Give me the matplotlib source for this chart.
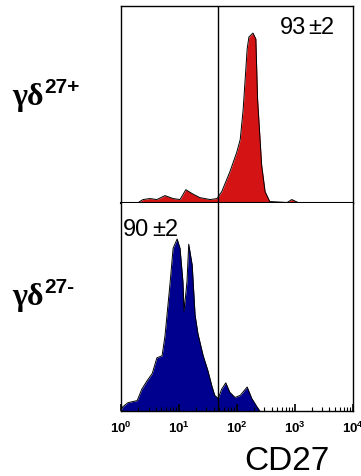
import matplotlib
matplotlib.use("Agg")
import matplotlib.pyplot as plt
import numpy as np
from matplotlib.ticker import FixedLocator, FixedFormatter, NullFormatter

plt.rcParams['font.family'] = ['Liberation Sans', 'DejaVu Sans']
plt.rcParams['mathtext.fontset'] = 'custom'
plt.rcParams['mathtext.bf'] = 'Liberation Sans:bold'
plt.rcParams['mathtext.rm'] = 'Liberation Sans'

## histogram outlines (log10 CD27, % of max scale)
pos_log = [0.30, 0.38, 0.50, 0.62, 0.76, 0.90, 1.02, 1.12, 1.23, 1.36, 1.54, 1.66, 1.74,
           1.88, 2.00, 2.06, 2.11, 2.18, 2.21, 2.28, 2.33, 2.36, 2.43, 2.49, 2.57, 2.87,
           2.95, 3.06]
pos_cnt = [0.0, 1.5, 2.0, 1.5, 3.5, 2.0, 1.5, 6.5, 4.5, 2.5, 1.5, 2.0, 5.5,
           15.5, 25.5, 32, 47, 78, 84, 86, 83, 52.5, 19, 5.5, 0.5, 0.0,
           1.5, 0.0]

neg_log = [0.0, 0.03, 0.12, 0.28, 0.36, 0.45, 0.54, 0.62, 0.71, 0.76, 0.85, 0.90, 0.97,
           1.02, 1.07, 1.09, 1.14, 1.17, 1.23, 1.28, 1.33, 1.42, 1.50, 1.57, 1.62, 1.68,
           1.74, 1.81, 1.88, 1.97, 2.06, 2.18, 2.26, 2.35, 2.40]
neg_cnt = [0.0, 2.0, 4.0, 5.0, 10.5, 14.5, 18, 25.5, 26.5, 36, 62, 78, 82.5,
           78, 62, 48, 62, 80, 70, 46, 37, 26.5, 19.5, 12, 7.5, 6,
           10.5, 13.5, 9, 6.5, 7.5, 11.5, 6, 2, 0.0]

gate = 10 ** 1.675
pos_pct = "93"
neg_pct = "90"
err = "\u00b12"
decades = [1, 10, 100, 1000, 10000]
dec_labels = [r'$\mathbf{10^{%d}}$' % i for i in range(5)]

fig = plt.figure(figsize=(3.61, 4.77), dpi=100)
W, H = 361.0, 477.0
x0, x1 = 121.0, 352.5
ax1 = fig.add_axes([x0 / W, 1 - 203.5 / H, (x1 - x0) / W, 197 / H])
ax2 = fig.add_axes([x0 / W, 1 - 412 / H, (x1 - x0) / W, 208.5 / H])

for ax, lx, cnt, col in [(ax1, pos_log, pos_cnt, '#d41414'), (ax2, neg_log, neg_cnt, '#00008f')]:
    xs = 10 ** np.array(lx)
    ax.fill_between(xs, 0, cnt, color=col, lw=0)
    ax.plot(xs, cnt, color='black', lw=0.7)
    ax.axvline(gate, color='black', lw=1.0)
    ax.set_xscale('log')
    ax.set_xlim(1, 10000)
    ax.set_ylim(0, 100)
    ax.set_yticks([])
    for s in ax.spines.values():
        s.set_linewidth(1.0)

ax1.set_xticks([])
ax1.xaxis.set_minor_formatter(NullFormatter())
ax1.tick_params(axis='x', which='both', length=0)
ax1.spines['bottom'].set_linewidth(1.5)
ax2.spines['top'].set_visible(False)

ax2.xaxis.set_major_locator(FixedLocator(decades))
ax2.xaxis.set_major_formatter(FixedFormatter(dec_labels))
ax2.xaxis.set_minor_formatter(NullFormatter())
ax2.tick_params(axis='x', which='major', direction='in', length=5, width=1.2, labelsize=9.5, pad=6)
ax2.tick_params(axis='x', which='minor', direction='in', length=3, width=0.8)

# percentages, with the +- written in the old underlined style
def pct(ax, xa, ya, num):
    t = ax.text(xa, ya, num, transform=ax.transAxes, ha='left', va='baseline', fontsize=17)
    e = ax.annotate(err, xy=(1, 0), xycoords=t, xytext=(2, 0), textcoords='offset points',
                    ha='left', va='bottom', fontsize=17)
    return t, e

pct(ax1, 0.685, 0.86, pos_pct)
pct(ax2, 0.01, 0.845, neg_pct)

# row labels
for yb, sup in [(105, '27+'), (305, '27-')]:
    fig.text(12 / W, 1 - yb / H, '\u03b3\u03b4', fontsize=23, fontweight='bold',
             family=['Liberation Serif', 'DejaVu Serif'], va='baseline', ha='left')
    fig.text(44 / W, 1 - (yb - 12) / H, sup, fontsize=15, fontweight='bold', va='baseline', ha='left')

fig.text(287 / W, 1 - 470 / H, 'CD27', fontsize=24, ha='center', va='baseline')

fig.savefig('out.png', dpi=100)
